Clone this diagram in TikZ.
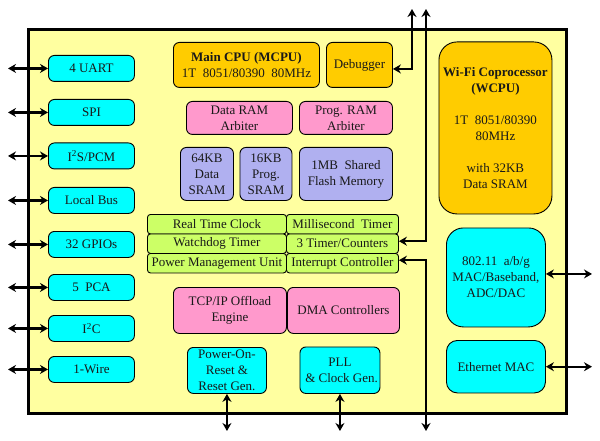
\documentclass[tikz,border=0pt]{standalone}
\usepackage{fontspec}
\setmainfont{Liberation Serif}
\usetikzlibrary{arrows.meta}
\definecolor{bgy}{RGB}{255,255,160}
\definecolor{orng}{RGB}{255,204,0}
\definecolor{pnk}{RGB}{255,153,204}
\definecolor{lav}{RGB}{176,176,240}
\definecolor{cyn}{RGB}{0,255,255}
\definecolor{grn}{RGB}{204,255,102}
\tikzset{
  blk/.style={draw=black, line width=0.9pt, rounded corners=6pt, inner sep=0pt, align=center,
    anchor=north west, font=\fontsize{13}{16}\selectfont, text=black!90},
  gcell/.style={blk, fill=grn, rounded corners=3pt, minimum height=19.5pt},
  dbl/.style={line width=2.4pt, {Stealth[length=8pt,width=9pt]}-{Stealth[length=8pt,width=9pt]}},
}
\begin{document}
\begin{tikzpicture}[x=1pt,y=-1pt]
\useasboundingbox (0,0) rectangle (600,441);
% outer block
\node[draw=black, line width=3pt, fill=bgy, minimum width=538pt, minimum height=384pt, inner sep=0pt, anchor=north west] (chip) at (27,28) {};
% free-end coordinates
\coordinate (lft) at (8,0);
\coordinate (rgt) at (592,0);
\coordinate (bot) at (0,431);
\coordinate (dbgtop) at (412,9);
\coordinate (bustop) at (426,9);
\coordinate (busbot) at (426,431);
% left peripherals
\node[blk, fill=cyn, minimum width=86pt, minimum height=26pt] (uart) at (48,55) {4 UART};
\node[blk, fill=cyn, minimum width=86pt, minimum height=26pt] (spi) at (48,99) {SPI};
\node[blk, fill=cyn, minimum width=86pt, minimum height=26pt] (i2s) at (48,142.5) {I\textsuperscript{2}S/PCM};
\node[blk, fill=cyn, minimum width=86pt, minimum height=26pt] (lbus) at (48,187) {Local Bus};
\node[blk, fill=cyn, minimum width=86pt, minimum height=26pt] (gpio) at (48,231) {32 GPIOs};
\node[blk, fill=cyn, minimum width=86pt, minimum height=26pt] (pca) at (48,274) {5~~PCA};
\node[blk, fill=cyn, minimum width=86pt, minimum height=26pt] (i2c) at (48,315) {I\textsuperscript{2}C};
\node[blk, fill=cyn, minimum width=86pt, minimum height=26pt] (wire) at (48,356) {1-Wire};
% CPU area
\node[blk, fill=orng, minimum width=146pt, minimum height=45pt] (mcpu) at (173,42) {\textbf{Main CPU (MCPU)}\\1T~~8051/80390~~80MHz};
\node[blk, fill=orng, minimum width=66pt, minimum height=45pt] (debug) at (326,42) {Debugger};
\node[blk, fill=pnk, minimum width=106pt, minimum height=33pt] (dram) at (186,101) {Data RAM\\Arbiter};
\node[blk, fill=pnk, minimum width=93pt, minimum height=33pt] (pram) at (299,101) {Prog. RAM\\Arbiter};
\node[blk, fill=lav, minimum width=53pt, minimum height=53pt] (d64) at (180,147) {64KB\\Data\\SRAM};
\node[blk, fill=lav, minimum width=52pt, minimum height=53pt] (p16) at (239.5,147) {16KB\\Prog.\\SRAM};
\node[blk, fill=lav, minimum width=93pt, minimum height=53pt] (flash) at (299,147) {1MB~~Shared\\Flash Memory};
% timers
\node[gcell, minimum width=139pt] (rtc) at (147,214) {Real Time Clock};
\node[gcell, minimum width=112pt] (msec) at (286,214) {Millisecond~~Timer};
\node[gcell, minimum width=139pt] (wdt) at (147,233.5) {Watchdog Timer};
\node[gcell, minimum width=112pt] (tmr) at (286,233.5) {3 Timer/Counters};
\node[gcell, minimum width=139pt] (pmu) at (147,253) {Power Management Unit};
\node[gcell, minimum width=112pt] (intr) at (286,253) {Interrupt Controller};
% lower blocks
\node[blk, fill=pnk, minimum width=113pt, minimum height=46pt] (tcp) at (173,287) {TCP/IP Offload\\Engine};
\node[blk, fill=pnk, minimum width=112pt, minimum height=46pt] (dma) at (287,287) {DMA Controllers};
\node[blk, fill=cyn, minimum width=79pt, minimum height=46pt] (por) at (187,347) {Power-On-\\Reset \&\\Reset Gen.};
\node[blk, fill=cyn, minimum width=80pt, minimum height=46.5pt] (pll) at (299.5,346.5) {PLL\\~\& Clock Gen.};
% right side
\node[blk, fill=orng, rounded corners=18pt, minimum width=113pt, minimum height=172pt] (wcpu) at (438.5,41.5) {\textbf{Wi-Fi Coprocessor}\\\textbf{(WCPU)}\\[16pt]1T~~8051/80390\\80MHz\\[16pt]with 32KB\\Data SRAM};
\node[blk, fill=cyn, rounded corners=17pt, minimum width=99pt, minimum height=99pt] (wmac) at (446,227.5) {802.11~~a/b/g\\MAC/Baseband,\\ADC/DAC};
\node[blk, fill=cyn, rounded corners=11pt, minimum width=99pt, minimum height=52.5pt] (emac) at (446,340) {Ethernet MAC};
% connector end points on the blocks
\coordinate (wmacE) at ([yshift=3.5pt]wmac.east);
\coordinate (debugE) at ([yshift=-4pt]debug.east);
\coordinate (tmrE) at ([yshift=2.5pt]tmr.east);
\coordinate (intrE) at ([yshift=3pt]intr.east);
% left arrows
\foreach \n in {uart,spi,i2s,lbus,gpio,pca,i2c,wire}
  \draw[dbl] (lft |- \n.west) -- (\n.west);
% right arrows
\draw[dbl] (wmacE) -- (rgt |- wmacE);
\draw[dbl] (emac.east) -- (rgt |- emac.east);
% bottom arrows
\draw[dbl] (por.south) -- (por.south |- bot);
\draw[dbl] (pll.south) -- (pll.south |- bot);
% debugger
\draw[dbl] (debugE) -- (debugE -| dbgtop) -- (dbgtop);
% bus lines
\draw[dbl] (tmrE) -- (tmrE -| bustop) -- (bustop);
\draw[dbl] (intrE) -- (intrE -| busbot) -- (busbot);
\end{tikzpicture}
\end{document}
